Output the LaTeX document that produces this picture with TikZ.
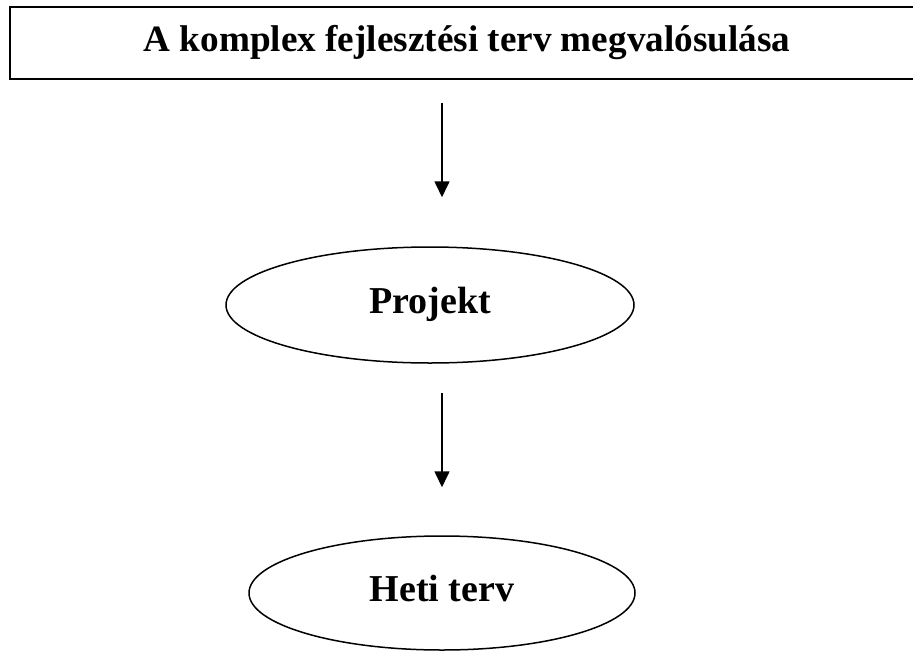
\documentclass[tikz,border=0pt]{standalone}
\usepackage{fontspec}
\setmainfont{Liberation Serif}
\usetikzlibrary{arrows.meta,shapes.geometric}

\tikzset{
  plantitle/.style={draw, line width=1.8pt, minimum width=914pt, minimum height=72pt,
    font=\fontsize{37.2}{44}\selectfont\bfseries},
  planstep/.style={ellipse, draw, line width=1.5pt, inner sep=0pt,
    font=\fontsize{38}{46}\selectfont\bfseries},
  planarrow/.style={line width=1.6pt, -{Triangle[length=16pt,width=15pt]}}
}

\begin{document}
\begin{tikzpicture}[x=1pt,y=-1pt]
  \useasboundingbox (0,0) rectangle (913,651);
  \clip (0,0) rectangle (913,651);

  % Title box (runs off the right edge)
  \node[plantitle] (title) at (467,43) {A komplex fejlesztési terv megvalósulása};

  % Ellipses
  \node[planstep, minimum width=408pt, minimum height=116pt] (projekt) at (430,305)
    {\raisebox{10pt}{Projekt}};
  \node[planstep, minimum width=386pt, minimum height=114pt] (heti) at (442,593)
    {\raisebox{10pt}{Heti terv}};

  % Arrows
  \draw[planarrow, shorten <=23pt, shorten >=49pt] (title.south -| heti.center) -- (projekt.north -| heti.center);
  \draw[planarrow, shorten <=29pt, shorten >=48pt] (projekt.south -| heti.center) -- (heti.north);
\end{tikzpicture}
\end{document}
